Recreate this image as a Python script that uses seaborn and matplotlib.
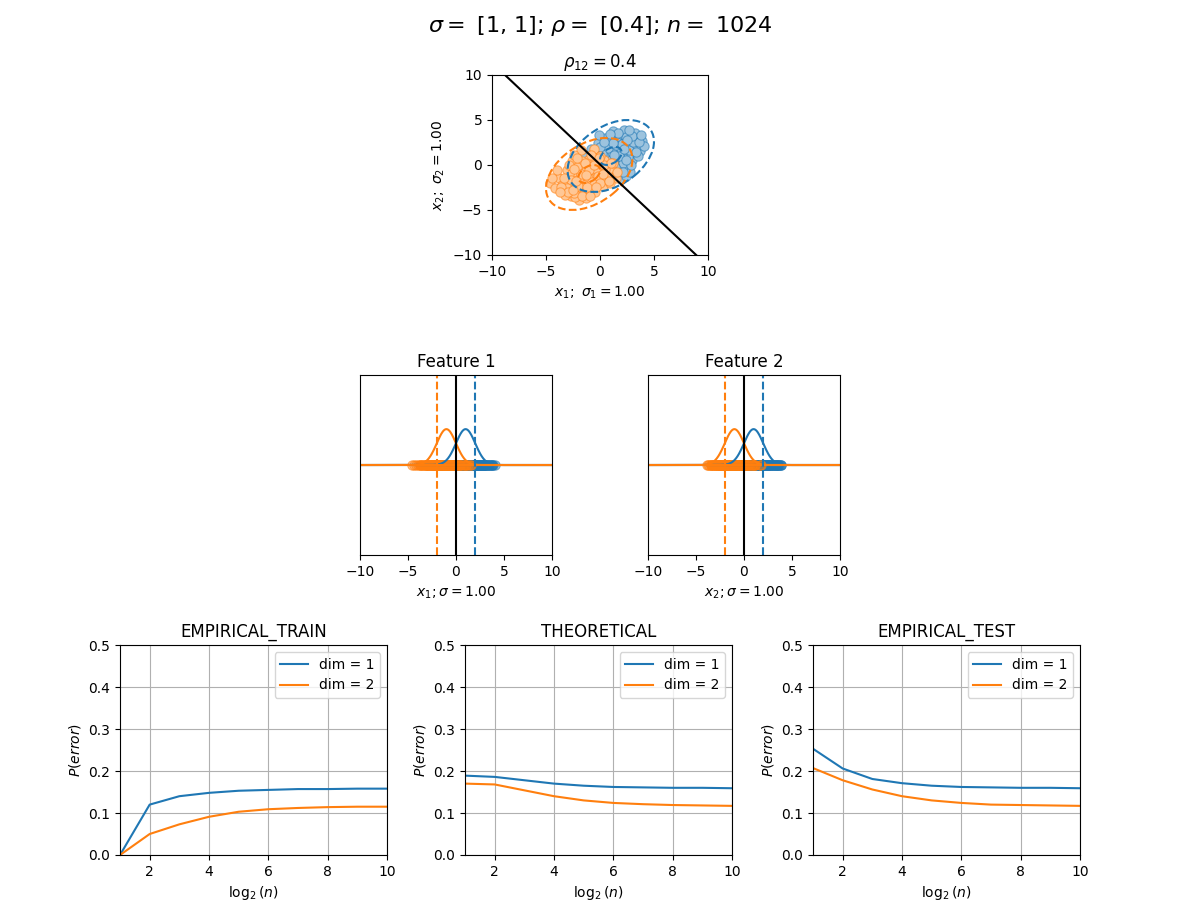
import numpy as np
import pandas as pd
import matplotlib
matplotlib.use("Agg")
import matplotlib.pyplot as plt
import seaborn as sns
from matplotlib.patches import Ellipse

# ---------------- data ----------------
blue_pts = [(1.0,1.0),(0.5,0.8),(1.5,1.3),(0.2,0.1),(1.8,2.0),(2.3,1.5),(0.8,2.2),(1.2,0.0),(2.0,0.6),(0.0,1.5),
            (2.8,2.5),(3.3,2.9),(3.9,2.7),(3.7,1.6),(2.6,3.5),(1.9,3.0),(1.3,3.3),(0.5,3.0),(-0.2,2.4),(-0.6,1.2),
            (-0.9,0.3),(-0.3,-0.5),(0.6,-0.8),(1.5,-1.0),(2.5,-0.3),(3.0,0.5),(2.9,1.3),(3.4,2.1),(2.2,2.6),(1.6,2.5),
            (0.9,1.6),(0.3,1.9),(1.1,-0.4),(1.9,-1.6),(2.4,-1.2),(0.0,-1.2),(-0.5,0.6),(1.6,0.3),(2.6,0.9),(3.2,3.6),
            (2.2,3.9),(1.0,2.8),(0.1,0.8),(0.8,0.3),(2.0,1.2),(1.4,1.8),(2.8,-0.8),(3.5,1.0),(-1.2,-0.6),(0.3,-0.2),
            (1.7,-0.3),(2.3,2.1),(3.0,2.0),(0.6,1.2),(-0.1,3.3),(4.1,2.1),(1.2,3.8),(-1.5,0.9),(0.9,-1.6),(1.8,0.9),
            (0.4,0.4),(1.3,0.7),(1.9,1.6),(2.5,2.0),(1.1,1.4),(0.7,1.9),(1.5,2.2),(2.1,0.2),(0.2,1.2),(1.4,-0.2),
            (2.7,1.7),(3.1,2.6),(2.4,3.1),(1.7,3.5),(0.9,3.4),(0.0,2.0),(-0.4,0.0),(0.5,-0.4),(2.9,0.0),(3.6,2.5),
            (3.0,3.2),(2.0,2.3),(1.2,2.4),(0.4,2.5),(-0.8,1.8),(-1.0,-0.2),(0.8,-1.1),(2.1,-0.8),(3.3,1.4),(2.5,2.8),
            (1.8,1.0),(1.0,0.6),(0.6,0.0),(2.4,0.5),(3.8,3.3),(2.7,3.9),(-0.3,1.0),(1.3,1.1),(2.2,1.8),(0.1,-0.8)]
orange_pts = [(-1.0,-1.0),(-0.4,-0.7),(-1.6,-1.3),(-0.2,-0.1),(-1.9,-2.1),(-2.4,-1.4),(-0.7,-2.3),(-1.3,0.1),(-2.1,-0.5),(0.1,-1.6),
              (-2.9,-2.4),(-3.4,-2.8),(-4.6,-2.0),(-3.8,-1.5),(-2.7,-3.4),(-1.9,-3.9),(-1.2,-3.2),(-0.5,-3.0),(0.3,-2.3),(0.7,-1.1),
              (1.0,-0.3),(0.4,0.6),(-0.6,0.9),(-1.8,1.7),(-2.6,0.4),(-3.1,-0.6),(-2.9,-1.3),(-3.5,-2.2),(-2.2,-2.7),(-1.6,-2.5),
              (-0.9,-1.7),(-0.2,-1.9),(-1.1,0.5),(-0.6,1.8),(-2.4,1.1),(0.0,1.0),(0.5,-0.4),(-1.6,-0.3),(-2.6,-0.9),(-3.2,-3.3),
              (-2.3,-3.6),(-1.0,-2.8),(-0.1,-0.8),(-0.8,-0.2),(-2.0,-1.2),(-1.4,-1.8),(1.5,-1.5),(1.2,0.2),(-4.0,-0.6),(-0.3,0.3),
              (-1.7,0.4),(-2.3,-2.1),(-3.0,-2.0),(-0.6,-1.2),(0.9,-2.0),(-4.2,-2.6),(-1.3,-3.7),(1.6,-0.8),(-0.9,-1.5),(-1.8,-0.8),
              (-0.4,-0.4),(-1.3,-0.7),(-1.9,-1.6),(-2.5,-2.0),(-1.1,-1.4),(-0.7,-1.9),(-1.5,-2.2),(-2.1,-0.2),(-0.2,-1.2),(-1.4,0.2),
              (-2.7,-1.7),(-3.1,-2.6),(-2.4,-3.1),(-1.7,-3.4),(-0.9,-3.4),(0.0,-2.0),(0.4,0.0),(-0.5,0.4),(-2.9,0.0),(-3.6,-2.5),
              (-3.0,-3.0),(-2.0,-2.3),(-1.2,-2.4),(-0.4,-2.5),(0.8,-1.8),(1.0,0.2),(-0.8,1.1),(-2.1,0.8),(-3.3,-1.4),(-2.5,-2.8),
              (-1.8,-1.0),(-1.0,-0.6),(-0.6,0.0),(-2.4,-0.5),(-4.4,-1.4),(-3.7,-3.0),(0.3,-1.0),(-1.3,-1.1),(-2.2,-1.8),(-0.1,0.8)]

class_means = [(1.0, 1.0), (-1.0, -1.0)]
sigmas = [1.0, 1.0]
rho = 0.4
ellipse_nstd = [1, 4]
boundary_x = [-8.8, 8.9]
boundary_y = [10.0, -10.0]
feature_thresholds = [1.97, -1.97]

log2n = [1, 2, 3, 4, 5, 6, 7, 8, 9, 10]
train_dim1 = [0.0, 0.120, 0.140, 0.148, 0.153, 0.155, 0.157, 0.157, 0.158, 0.158]
train_dim2 = [0.0, 0.050, 0.073, 0.091, 0.103, 0.109, 0.112, 0.114, 0.115, 0.115]
theo_dim1 = [0.189, 0.186, 0.178, 0.170, 0.165, 0.162, 0.161, 0.160, 0.160, 0.159]
theo_dim2 = [0.170, 0.168, 0.154, 0.140, 0.130, 0.124, 0.121, 0.119, 0.118, 0.117]
test_dim1 = [0.253, 0.206, 0.181, 0.171, 0.165, 0.162, 0.161, 0.160, 0.160, 0.159]
test_dim2 = [0.207, 0.178, 0.156, 0.140, 0.130, 0.124, 0.120, 0.119, 0.118, 0.117]

panel_titles = ["EMPIRICAL_TRAIN", "THEORETICAL", "EMPIRICAL_TEST"]
panel_series = [(train_dim1, train_dim2), (theo_dim1, theo_dim2), (test_dim1, test_dim2)]
legend_labels = ["dim = 1", "dim = 2"]

C0, C1 = "#1f77b4", "#ff7f0e"
colors = [C0, C1]
classes = [np.array(blue_pts), np.array(orange_pts)]


def pale(c, a=0.44):
    r = np.array(matplotlib.colors.to_rgb(c))
    return tuple(1 - a * (1 - r))


fig = plt.figure(figsize=(12, 9), dpi=100)
fig.suptitle(r"$\sigma = $ [1, 1]; $\rho = $ [0.4]; $n = $ 1024", fontsize=16, y=0.985)

# ---------------- top scatter ----------------
ax = fig.add_axes([0.41, 0.7167, 0.18, 0.2])
for pts, c in zip(classes, colors):
    df = pd.DataFrame({"x1": pts[:, 0], "x2": pts[:, 1]})
    sns.scatterplot(data=df, x="x1", y="x2", ax=ax, s=45,
                    facecolor=pale(c),
                    edgecolor=matplotlib.colors.to_rgba(c, 0.55), linewidth=0.8)
cov = np.array([[sigmas[0]**2, rho*sigmas[0]*sigmas[1]], [rho*sigmas[0]*sigmas[1], sigmas[1]**2]])
vals, vecs = np.linalg.eigh(cov)
angle = np.degrees(np.arctan2(vecs[1, 1], vecs[0, 1]))
for m, c in zip(class_means, colors):
    for k in ellipse_nstd:
        e = Ellipse(m, width=2*k*np.sqrt(vals[1]), height=2*k*np.sqrt(vals[0]), angle=angle,
                    fill=False, edgecolor=c, linestyle="--", linewidth=1.5)
        ax.add_patch(e)
ax.plot(boundary_x, boundary_y, color="k", linewidth=1.5)
ax.set_xlim(-10, 10)
ax.set_ylim(-10, 10)
ax.set_xticks([-10, -5, 0, 5, 10])
ax.set_yticks([-10, -5, 0, 5, 10])
ax.set_title(r"$\rho_{12} = 0.4$")
ax.set_xlabel(r"$x_1;\ \sigma_1 = 1.00$")
ax.set_ylabel(r"$x_2;\ \sigma_2 = 1.00$")

# ---------------- feature panels ----------------
feat_rects = [[0.30, 0.3833, 0.16, 0.2], [0.54, 0.3833, 0.16, 0.2]]
feat_xlabels = [r"$x_1; \sigma = 1.00$", r"$x_2; \sigma = 1.00$"]
grid = np.linspace(-10, 10, 400)
for fi in range(2):
    ax = fig.add_axes(feat_rects[fi])
    for ci, (pts, c) in enumerate(zip(classes, colors)):
        vals_f = pts[:, fi]
        sns.scatterplot(x=vals_f, y=np.zeros_like(vals_f), ax=ax, s=45,
                        facecolor=matplotlib.colors.to_rgba(c, 0.35),
                        edgecolor=matplotlib.colors.to_rgba(c, 0.6), linewidth=0.8)
        mu = class_means[ci][fi]
        pdf = np.exp(-0.5 * ((grid - mu) / sigmas[fi])**2) / (sigmas[fi] * np.sqrt(2 * np.pi))
        sns.lineplot(x=grid, y=pdf, ax=ax, color=c, linewidth=1.5)
        ax.axhline(0, color=c, linewidth=1.5)
    ax.axvline(0, color="k", linewidth=1.5)
    for t, c in zip(feature_thresholds, colors):
        ax.axvline(t, color=c, linestyle="--", linewidth=1.5)
    ax.set_xlim(-10, 10)
    ax.set_ylim(-1, 1)
    ax.set_xticks([-10, -5, 0, 5, 10])
    ax.set_yticks([])
    ax.set_title(f"Feature {fi + 1}")
    ax.set_xlabel(feat_xlabels[fi])

# ---------------- error panels ----------------
err_lefts = [0.1, 0.3875, 0.6775]
for left, title, (s1, s2) in zip(err_lefts, panel_titles, panel_series):
    ax = fig.add_axes([left, 0.05, 0.2225, 0.2333])
    sns.lineplot(x=log2n, y=s1, ax=ax, color=C0, label=legend_labels[0], linewidth=1.5)
    sns.lineplot(x=log2n, y=s2, ax=ax, color=C1, label=legend_labels[1], linewidth=1.5)
    ax.set_xlim(1, 10)
    ax.set_ylim(0, 0.5)
    ax.set_xticks([2, 4, 6, 8, 10])
    ax.set_yticks([0.0, 0.1, 0.2, 0.3, 0.4, 0.5])
    ax.grid(True)
    ax.set_title(title)
    ax.set_xlabel(r"$\log_2(n)$")
    ax.set_ylabel(r"$P(error)$")
    ax.legend(loc="upper right")

fig.savefig("out.png", dpi=100)
